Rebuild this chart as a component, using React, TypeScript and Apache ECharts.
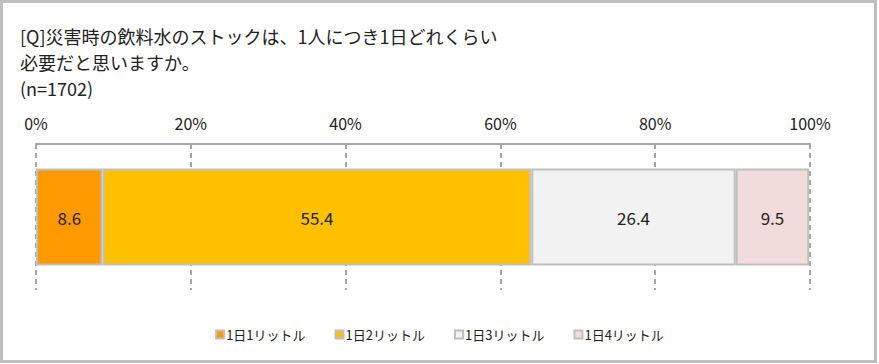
import React, { useEffect, useRef } from "react";
import * as echarts from "echarts";

const titleLines = ["[Q]災害時の飲料水のストックは、1人につき1日どれくらい", "必要だと思いますか。", "(n=1702)"];
const categories = ["全体"];
const seriesNames = ["1日1リットル", "1日2リットル", "1日3リットル", "1日4リットル"];
const seriesValues = [8.6, 55.4, 26.4, 9.5];
const seriesColors = ["#FF9900", "#FFC000", "#F2F2F2", "#F2DCDB"];
const tickValues = [0, 20, 40, 60, 80, 100];

const FONT = "'Noto Sans CJK JP', sans-serif";

export default function App() {
  const ref = useRef<HTMLDivElement>(null);
  useEffect(() => {
    document.body.style.margin = "0";
    const chart = echarts.init(ref.current!, null, { renderer: "svg" });
    chart.setOption({
      animation: false,
      backgroundColor: "#ffffff",
      textStyle: { fontFamily: FONT },
      graphic: [
        {
          type: "rect",
          shape: { x: 1.5, y: 1.5, width: 874, height: 360 },
          style: { fill: "none", stroke: "#BFBFBF", lineWidth: 3 },
          silent: true,
        },
        {
          type: "text",
          left: 20,
          top: 23,
          style: {
            text: titleLines.join("\n"),
            fontSize: 18,
            lineHeight: 26,
            fill: "#222222",
            fontFamily: FONT,
          },
        },
      ],
      legend: {
        data: seriesNames,
        bottom: 18,
        left: "center",
        itemWidth: 8,
        itemHeight: 8,
        itemGap: 29,
        icon: "rect",
        textStyle: { fontSize: 13, color: "#222", fontFamily: FONT, padding: [0, 0, 0, -3] },
      },
      grid: { left: 36, right: 69, top: 144, bottom: 74 },
      xAxis: {
        type: "value",
        position: "top",
        min: tickValues[0],
        max: tickValues[tickValues.length - 1],
        interval: 20,
        axisLine: { show: true, lineStyle: { color: "#A6A6A6", width: 2 } },
        axisTick: { show: false },
        axisLabel: {
          formatter: "{value}%",
          fontSize: 16,
          color: "#222",
          margin: 13,
          fontFamily: FONT,
        },
        splitLine: { show: true, lineStyle: { color: "#A6A6A6", type: [5, 4], width: 2 } },
      },
      yAxis: {
        type: "category",
        data: categories,
        axisLine: { show: false },
        axisTick: { show: false },
        axisLabel: { show: false },
      },
      series: seriesNames.map((name, i) => ({
        name,
        type: "bar",
        stack: "total",
        barWidth: 97,
        data: [seriesValues[i]],
        itemStyle: { color: seriesColors[i], borderColor: "#BFBFBF", borderWidth: 2 },
        label: {
          show: true,
          position: "inside",
          formatter: (p: any) => p.value.toFixed(1),
          fontSize: 17,
          color: "#222",
          fontFamily: FONT,
        },
      })),
    });
    return () => chart.dispose();
  }, []);
  return <div ref={ref} style={{ width: 879, height: 364 }} />;
}
